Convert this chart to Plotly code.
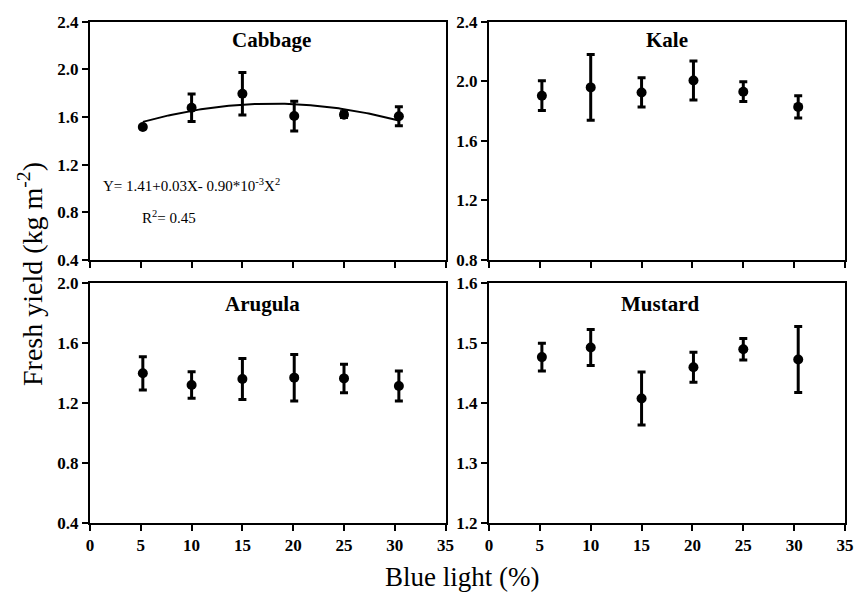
import numpy as np
import plotly.graph_objects as go

# ---------------- data ----------------
blue = [5.2, 10.0, 15.0, 20.1, 25.0, 30.4]

cabbage_mean = [1.516, 1.678, 1.796, 1.608, 1.620, 1.606]
cabbage_sd = [0.010, 0.116, 0.178, 0.125, 0.025, 0.080]

kale_mean = [1.903, 1.959, 1.925, 2.005, 1.930, 1.828]
kale_sd = [0.100, 0.220, 0.098, 0.131, 0.066, 0.075]

arugula_mean = [1.396, 1.318, 1.358, 1.367, 1.362, 1.311]
arugula_sd = [0.111, 0.088, 0.137, 0.155, 0.095, 0.100]

mustard_mean = [1.476, 1.492, 1.407, 1.459, 1.489, 1.472]
mustard_sd = [0.023, 0.030, 0.044, 0.025, 0.018, 0.055]

# quadratic fit drawn through the cabbage data (c0, c1, c2)
cabbage_fit = [1.41, 0.0335, -0.00093]
fit_x_range = [5.2, 30.4]

panel_names = ["Cabbage", "Kale", "Arugula", "Mustard"]
y_ranges = [[0.4, 2.4], [0.8, 2.4], [0.4, 2.0], [1.2, 1.6]]
y_dticks = [0.4, 0.4, 0.4, 0.1]
x_ticks = [0, 5, 10, 15, 20, 25, 30, 35]

# ---------------- figure ----------------
W, H = 854, 594
SERIF = "Liberation Serif, Times New Roman, serif"
fig = go.Figure()

means = [cabbage_mean, kale_mean, arugula_mean, mustard_mean]
sds = [cabbage_sd, kale_sd, arugula_sd, mustard_sd]

# fitted curve (cabbage)
fx = np.linspace(fit_x_range[0], fit_x_range[1], 120)
fy = cabbage_fit[0] + cabbage_fit[1] * fx + cabbage_fit[2] * fx ** 2
fig.add_trace(go.Scatter(x=fx, y=fy, mode="lines", line=dict(color="black", width=2),
                         xaxis="x", yaxis="y", showlegend=False, hoverinfo="skip"))

axis_ids = ["", "2", "3", "4"]
for i in range(4):
    fig.add_trace(go.Scatter(
        x=blue, y=means[i], mode="markers",
        marker=dict(color="black", size=10, symbol="circle"),
        error_y=dict(type="data", array=sds[i], visible=True, color="black",
                     thickness=3, width=4),
        xaxis="x" + axis_ids[i], yaxis="y" + axis_ids[i], showlegend=False))

# domains in paper fractions (pixel geometry of reference)
left_x = [90 / W, 445.6 / W]
right_x = [489 / W, 845 / W]
top_y = [1 - 260 / H, 1 - 21.7 / H]
bot_y = [1 - 522.7 / H, 1 - 282.7 / H]
xdoms = [left_x, right_x, left_x, right_x]
ydoms = [top_y, top_y, bot_y, bot_y]

layout = dict(
    width=W, height=H,
    margin=dict(l=0, r=0, t=0, b=0, autoexpand=False),
    paper_bgcolor="white", plot_bgcolor="white",
    showlegend=False,
    font=dict(family=SERIF, color="black"),
)

for i in range(4):
    xa = "xaxis" + axis_ids[i]
    ya = "yaxis" + axis_ids[i]
    layout[xa] = dict(
        domain=xdoms[i], range=[0, 35], anchor="y" + axis_ids[i],
        tickmode="array", tickvals=x_ticks, ticktext=[str(t) for t in x_ticks],
        showticklabels=(i >= 2), automargin=False,
        ticks="outside", ticklen=6, tickwidth=2, tickcolor="black",
        showline=True, linecolor="black", linewidth=2, mirror=True,
        showgrid=False, zeroline=False,
        tickfont=dict(family=SERIF, size=17, color="black", weight="bold"),
    )
    lo, hi = y_ranges[i]
    layout[ya] = dict(
        domain=ydoms[i], range=[lo, hi], anchor="x" + axis_ids[i],
        tick0=lo, dtick=y_dticks[i], tickformat=".1f", automargin=False,
        ticks="outside", ticklen=6, tickwidth=2, tickcolor="black",
        showline=True, linecolor="black", linewidth=2, mirror=True,
        showgrid=False, zeroline=False,
        tickfont=dict(family=SERIF, size=17, color="black", weight="bold"),
    )

fig.update_layout(**layout)

# panel titles
title_pos = [(0.51, 0.925), (0.50, 0.925), (0.485, 0.91), (0.48, 0.91)]
for i in range(4):
    fig.add_annotation(
        text="<b>" + panel_names[i] + "</b>",
        xref="x" + axis_ids[i] + " domain", yref="y" + axis_ids[i] + " domain",
        x=title_pos[i][0], y=title_pos[i][1], showarrow=False,
        xanchor="center", yanchor="middle",
        font=dict(family=SERIF, size=21, color="black"))

# regression equation
fig.add_annotation(
    text="Y= 1.41+0.03X- 0.90*10<sup>-3</sup>X<sup>2</sup>",
    xref="paper", yref="paper", x=101 / W, y=1 - 185 / H,
    xanchor="left", yanchor="middle", showarrow=False,
    font=dict(family=SERIF, size=15, color="black"))
fig.add_annotation(
    text="R<sup>2</sup>= 0.45",
    xref="paper", yref="paper", x=140 / W, y=1 - 217 / H,
    xanchor="left", yanchor="middle", showarrow=False,
    font=dict(family=SERIF, size=15, color="black"))

# axis titles
fig.add_annotation(
    text="Fresh yield (kg m<sup>-2</sup>)",
    xref="paper", yref="paper", x=30 / W, y=1 - 274 / H,
    xanchor="center", yanchor="middle", textangle=-90, showarrow=False,
    font=dict(family=SERIF, size=28, color="black"))
fig.add_annotation(
    text="Blue light (%)",
    xref="paper", yref="paper", x=462 / W, y=1 - 577 / H,
    xanchor="center", yanchor="middle", showarrow=False,
    font=dict(family=SERIF, size=27, color="black"))

fig.write_html("out.html")
